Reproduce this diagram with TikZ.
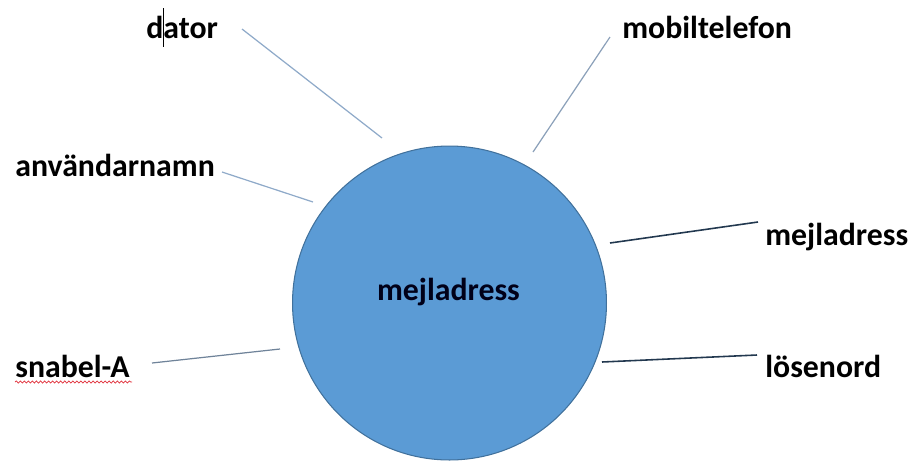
\documentclass[tikz,border=0pt]{standalone}
\usepackage{fontspec}
\setmainfont{Carlito}
\usetikzlibrary{decorations.pathmorphing}

\definecolor{hubfill}{HTML}{5B9BD5}
\definecolor{hubedge}{HTML}{41719C}
\definecolor{spokelight}{HTML}{8FAAC9}
\definecolor{spokemid}{HTML}{6F8399}
\definecolor{spokedark}{HTML}{22384F}
\definecolor{spellred}{HTML}{E0303A}

\begin{document}
\begin{tikzpicture}[x=0.02cm, y=-0.02cm,
		hub/.style={circle, draw=hubedge, fill=hubfill, line width=0.6pt, minimum size=6.28cm, inner sep=0pt},
		word/.style={inner sep=0pt, font=\fontsize{18.1}{22}\selectfont\bfseries},
		spoke/.style={line width=0.7pt, draw=spokelight}]
		
		\useasboundingbox (0,0) rectangle (917,461);
		
		% Cirkel i mitten
		\node[hub] (hub) at (449.5,303) {};
		\node[word, text=black!90!blue] (mitt) at (448.5,292) {mejladress};
		
		% Ord runt cirkeln
		\node[word, anchor=base west] (dator) at (146,38) {dator};
		\node[word, anchor=base west] (mobil) at (622,38) {mobiltelefon};
		\node[word, anchor=base west] (anvnamn) at (15,176) {användarnamn};
		\node[word, anchor=base west] (mejl) at (765,245) {mejladress};
		\node[word, anchor=base west] (snabel) at (15,377) {snabel-A};
		\node[word, anchor=base west] (losen) at (765,377) {lösenord};
		
		% Linjernas ändpunkter
		\coordinate (datorA) at (242,29);
		\coordinate (datorB) at (382,138);
		\coordinate (mobilA) at (610,37);
		\coordinate (mobilB) at (533,152);
		\coordinate (anvA) at (222,172);
		\coordinate (anvB) at (313,202);
		\coordinate (mejlA) at (758,222);
		\coordinate (mejlB) at (610,243);
		\coordinate (snabelA) at (152,363);
		\coordinate (snabelB) at (280,349);
		\coordinate (losenA) at (757,355);
		\coordinate (losenB) at (602,362);
		
		% Linjer
		\draw[spoke] (datorA) -- (datorB);
		\draw[spoke, draw=spokelight!80!gray] (mobilA) -- (mobilB);
		\draw[spoke] (anvA) -- (anvB);
		\draw[spoke, draw=spokedark, line width=0.9pt] (mejlA) -- (mejlB);
		\draw[spoke, draw=spokemid] (snabelA) -- (snabelB);
		\draw[spoke, draw=spokedark, line width=0.9pt] (losenA) -- (losenB);
		
		% Markör och stavningskontroll
		\coordinate (markorA) at (163,8);
		\coordinate (markorB) at (163,47);
		\draw[line width=0.5pt, black] (markorA) -- (markorB);
		\coordinate (vagA) at (15,382);
		\coordinate (vagB) at (132,382);
		\draw[spellred, line width=0.4pt, decorate, decoration={snake, segment length=2.3pt, amplitude=0.6pt}] (vagA) -- (vagB);
		
	\end{tikzpicture}
\end{document}
